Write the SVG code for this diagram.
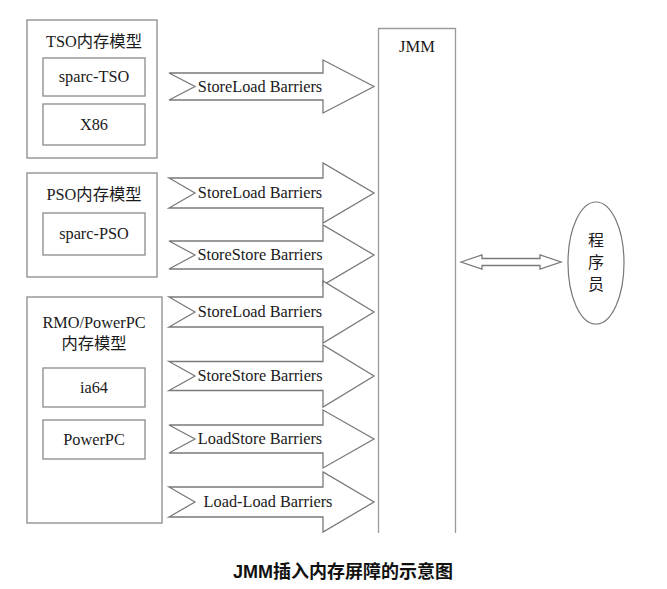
<svg xmlns="http://www.w3.org/2000/svg" width="667" height="589" viewBox="0 0 667 589">
<style>
.box{fill:#fff;stroke:#8a8a8a;stroke-width:1.3}
.arr{fill:#fff;stroke:#7a7a7a;stroke-width:1.3;stroke-linejoin:miter}
.t{font-family:"Liberation Serif","Noto Sans CJK SC",serif;fill:#1a1a1a;text-anchor:middle}
.lbl{font-size:16.3px}
.cap{font-family:"Liberation Sans","Noto Sans CJK SC",sans-serif;font-weight:bold;font-size:18px;fill:#111}
</style>
<rect width="667" height="589" fill="#fff"/>
<g id="tso">
<rect class="box" x="27" y="20" width="130" height="138"/>
<text class="t" x="94" y="47" font-size="16.3">TSO内存模型</text>
<g id="sparc-tso"><rect class="box" x="43" y="58" width="102" height="38"/><text class="t" x="94" y="82" font-size="16.3">sparc-TSO</text></g>
<g id="x86"><rect class="box" x="43" y="104" width="102" height="41"/><text class="t" x="94" y="130" font-size="16.3">X86</text></g>
</g>
<g id="pso">
<rect class="box" x="27" y="173" width="130" height="104"/>
<text class="t" x="94" y="200" font-size="16.3">PSO内存模型</text>
<g id="sparc-pso"><rect class="box" x="43" y="213" width="102" height="42"/><text class="t" x="94" y="239" font-size="16.3">sparc-PSO</text></g>
</g>
<g id="rmo">
<rect class="box" x="27" y="297" width="135" height="226"/>
<text class="t" x="94" y="328" font-size="16.3">RMO/PowerPC</text>
<text class="t" x="94" y="349" font-size="16.3">内存模型</text>
<g id="ia64"><rect class="box" x="43" y="368" width="102" height="39"/><text class="t" x="94" y="393" font-size="16.3">ia64</text></g>
<g id="powerpc"><rect class="box" x="43" y="420" width="102" height="39"/><text class="t" x="94" y="445" font-size="16.3">PowerPC</text></g>
</g>
<g id="jmm">
<path d="M378.5,533 V28.5 H455.5 V533" fill="none" stroke="#9a9a9a" stroke-width="1.3"/>
<text class="t" x="417" y="52" font-size="16.5">JMM</text>
</g>
<g id="programmer">
<ellipse cx="596" cy="263" rx="28" ry="61" fill="#fff" stroke="#777" stroke-width="1.2"/>
<text class="t" x="596" y="246" font-size="16">程</text>
<text class="t" x="596" y="268" font-size="16">序</text>
<text class="t" x="596" y="290" font-size="16">员</text>
</g>
<g id="connectors">
<path class="arr" d="M169,73 L323,73 L323,60 L374,86.5 L323,113 L323,100 L169,100 L195,86.5 Z"/>
<text class="t lbl" x="260" y="92">StoreLoad Barriers</text>
<path class="arr" d="M169,178 L323,178 L323,163 L374,193 L323,223 L323,208 L169,208 L195,193 Z"/>
<text class="t lbl" x="260" y="198">StoreLoad Barriers</text>
<path class="arr" d="M169,241 L323,241 L323,225 L374,255 L323,285 L323,269 L169,269 L195,255 Z"/>
<text class="t lbl" x="260" y="260">StoreStore Barriers</text>
<path class="arr" d="M169,297 L323,297 L323,281 L374,312 L323,343 L323,327 L169,327 L195,312 Z"/>
<text class="t lbl" x="260" y="317">StoreLoad Barriers</text>
<path class="arr" d="M169,361.5 L323,361.5 L323,345 L374,376 L323,407 L323,390.5 L169,390.5 L195,376 Z"/>
<text class="t lbl" x="260" y="381">StoreStore Barriers</text>
<path class="arr" d="M169,425 L323,425 L323,410 L374,439 L323,468 L323,453 L169,453 L195,439 Z"/>
<text class="t lbl" x="260" y="444">LoadStore Barriers</text>
<path class="arr" d="M169,487 L323,487 L323,472 L374,502 L323,532 L323,517 L169,517 L195,502 Z"/>
<text class="t lbl" x="268" y="507">Load-Load Barriers</text>
<path class="arr" d="M461,262 L482,255 L482,258.5 L540,258.5 L540,255 L561,262 L540,269 L540,265.5 L482,265.5 L482,269 Z"/>
</g>
<text class="cap" x="233" y="578">JMM插入内存屏障的示意图</text>
</svg>
